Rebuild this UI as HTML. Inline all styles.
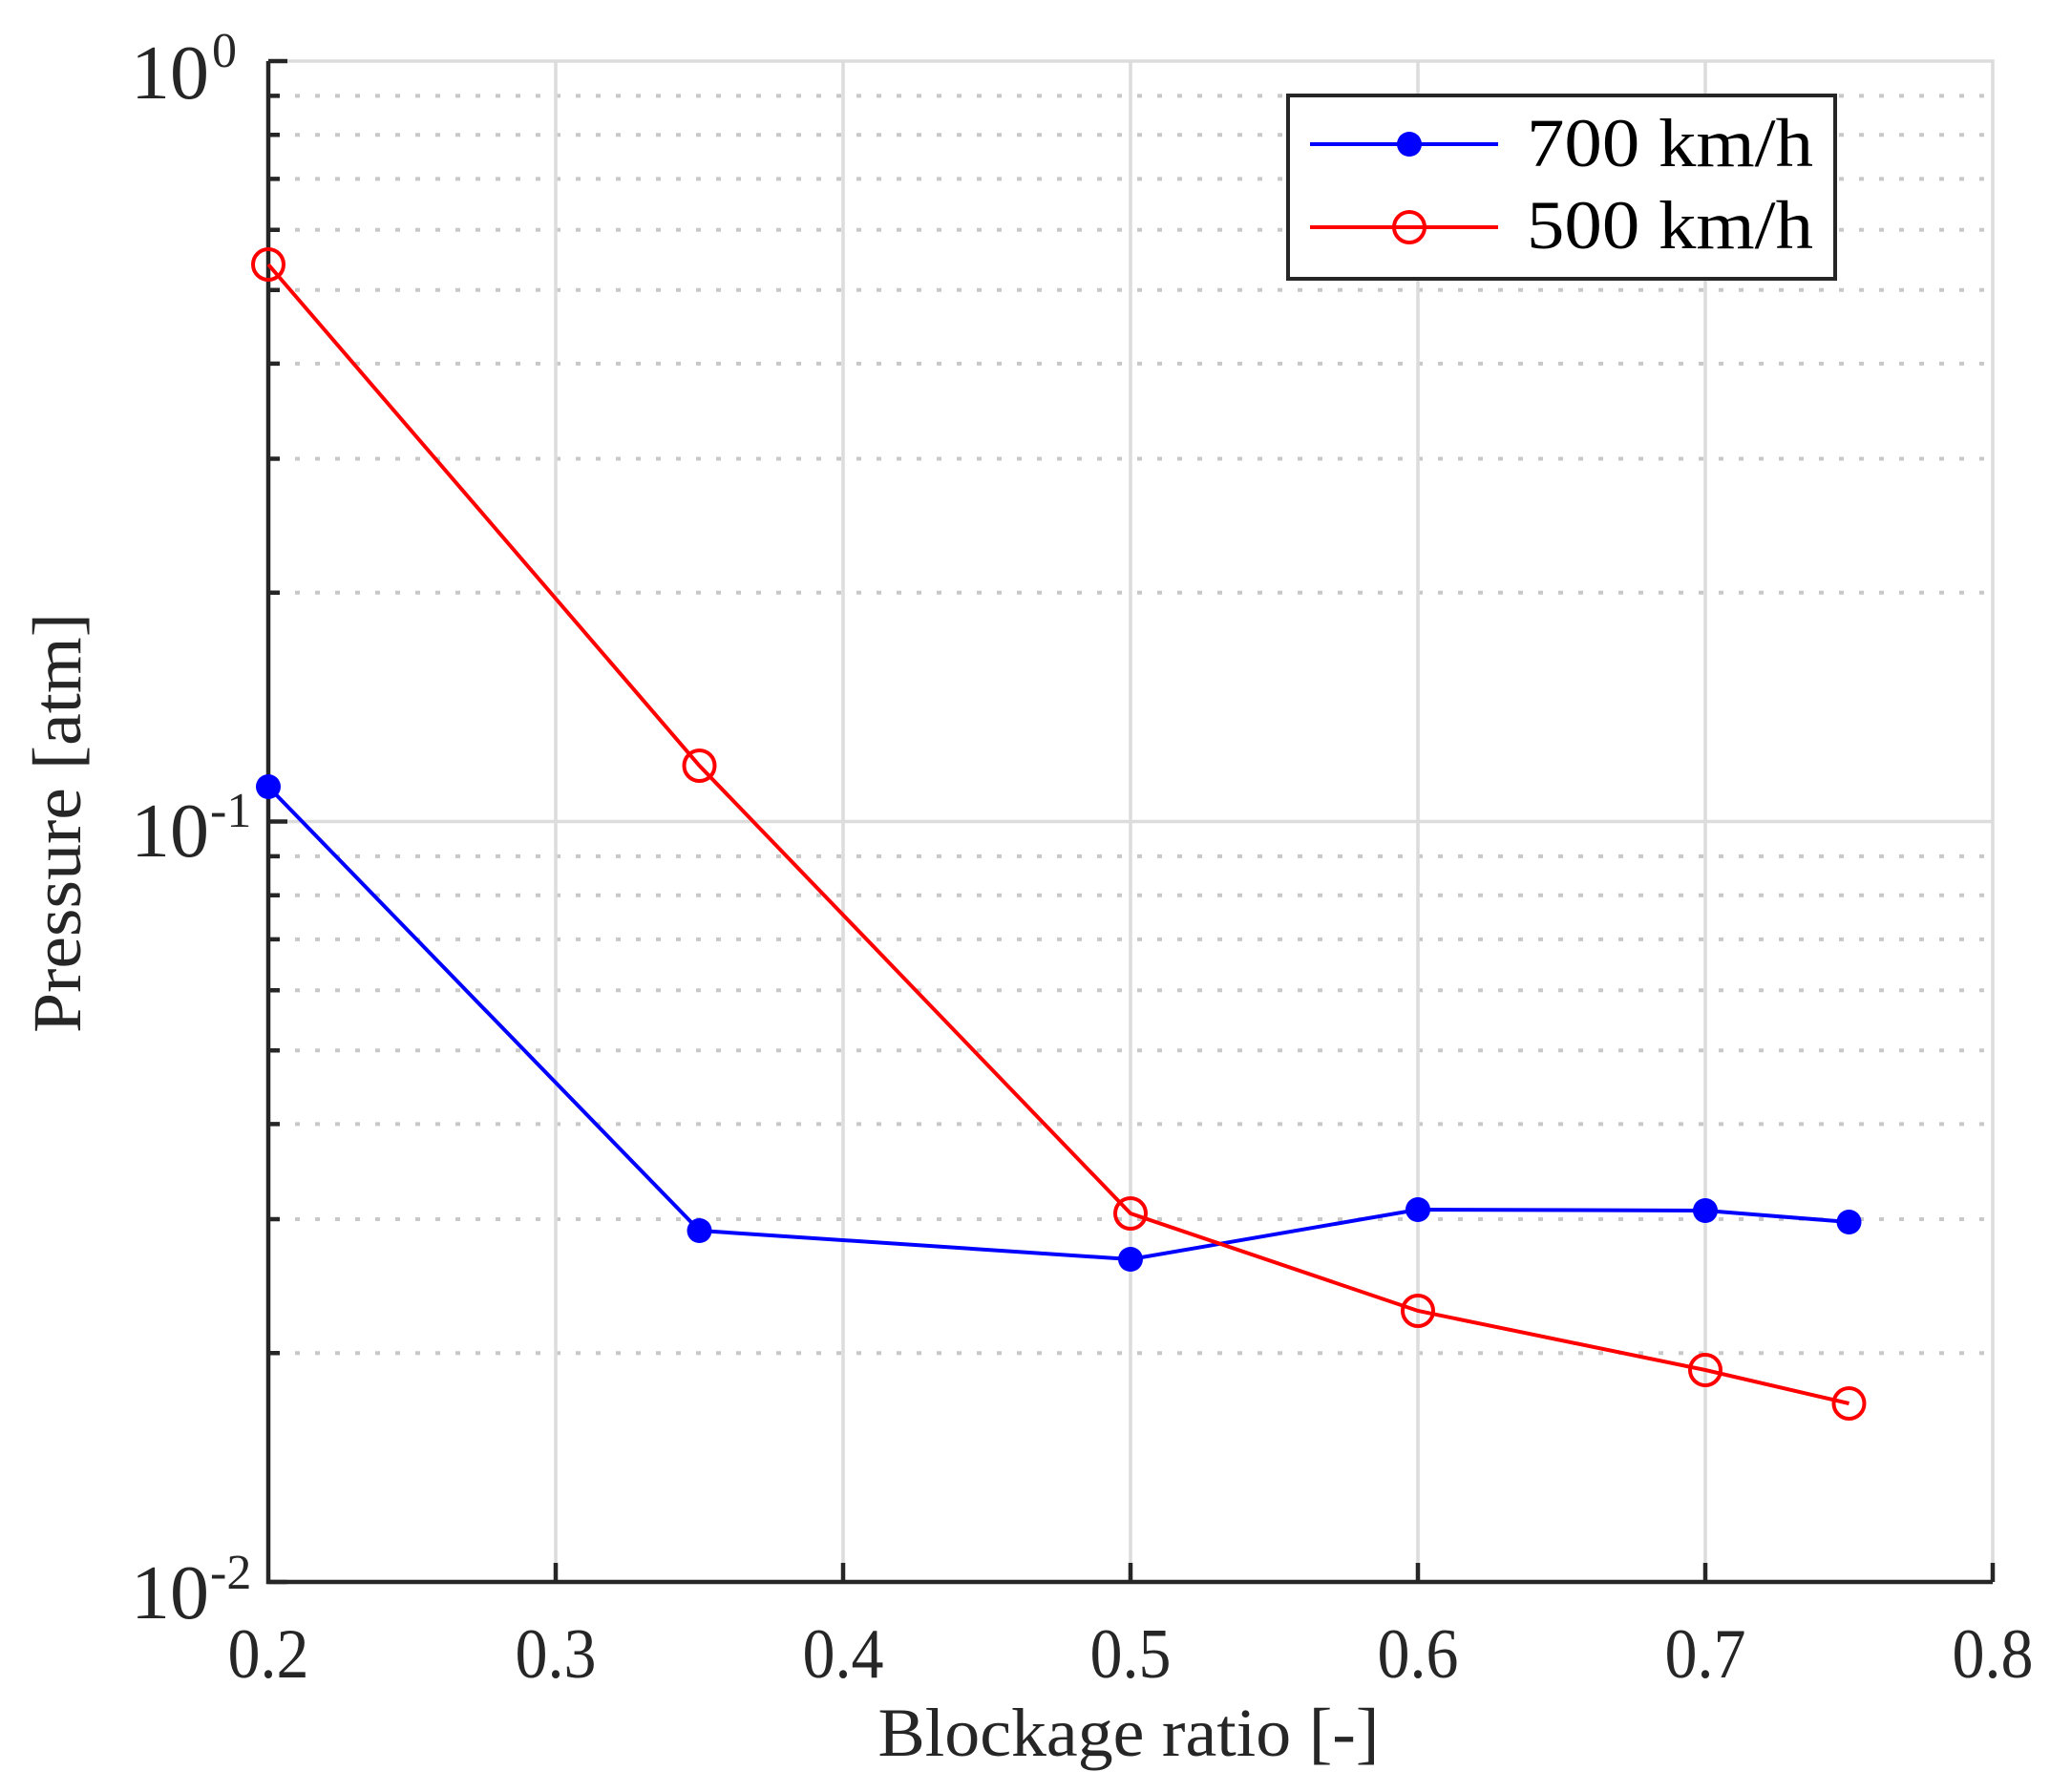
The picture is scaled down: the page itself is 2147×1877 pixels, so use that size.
<!DOCTYPE html>
<html><head><meta charset="utf-8"><style>html,body{margin:0;padding:0;background:#fff}svg{display:block}</style></head>
<body>
<svg width="2147" height="1877" viewBox="0 0 2147 1877" xmlns="http://www.w3.org/2000/svg" font-family="Liberation Serif, serif" fill="#262626">
<g stroke="#c8c8c8" stroke-width="4" stroke-dasharray="5 16">
<path d="M288 100.4H2087M288 141.2H2087M288 187.4H2087M288 240.7H2087M288 303.7H2087M288 380.9H2087M288 480.5H2087M288 620.7H2087M288 896.9H2087M288 937.7H2087M288 983.9H2087M288 1037.2H2087M288 1100.2H2087M288 1177.4H2087M288 1277H2087M288 1417.2H2087"/>
</g>
<g stroke="#dcdcdc" stroke-width="3.5" fill="none">
<path d="M281 64H2087V1657M582 64V1657M883 64V1657M1184 64V1657M1485 64V1657M1786 64V1657M281 860.5H2087"/>
</g>
<g stroke="#262626" stroke-width="4.5" fill="none">
<path d="M281 64V1657H2087"/>
<path d="M281 64H301M281 860.5H301M281 1657H301"/>
<path d="M281 100.4H293M281 141.2H293M281 187.4H293M281 240.7H293M281 303.7H293M281 380.9H293M281 480.5H293M281 620.7H293M281 896.9H293M281 937.7H293M281 983.9H293M281 1037.2H293M281 1100.2H293M281 1177.4H293M281 1277H293M281 1417.2H293"/>
<path d="M582 1657V1637M883 1657V1637M1184 1657V1637M1485 1657V1637M1786 1657V1637M2087 1657V1637"/>
</g>
<polyline points="281,824 732.5,1289 1184,1319 1485,1267 1786,1268 1936.5,1280" fill="none" stroke="#0000ff" stroke-width="4"/>
<g fill="#0000ff"><circle cx="281" cy="824" r="13"/><circle cx="732.5" cy="1289" r="13"/><circle cx="1184" cy="1319" r="13"/><circle cx="1485" cy="1267" r="13"/><circle cx="1786" cy="1268" r="13"/><circle cx="1936.5" cy="1280" r="13"/></g>
<polyline points="281,277 732.5,802 1184,1271 1485,1373 1786,1435 1936.5,1470" fill="none" stroke="#ff0000" stroke-width="4"/>
<g fill="none" stroke="#ff0000" stroke-width="4"><circle cx="281" cy="277" r="16"/><circle cx="732.5" cy="802" r="16"/><circle cx="1184" cy="1271" r="16"/><circle cx="1485" cy="1373" r="16"/><circle cx="1786" cy="1435" r="16"/><circle cx="1936.5" cy="1470" r="16"/></g>
<g font-size="74" text-anchor="middle">
<text x="281" y="1757" textLength="85" lengthAdjust="spacingAndGlyphs">0.2</text><text x="582" y="1757" textLength="85" lengthAdjust="spacingAndGlyphs">0.3</text><text x="883" y="1757" textLength="85" lengthAdjust="spacingAndGlyphs">0.4</text><text x="1184" y="1757" textLength="85" lengthAdjust="spacingAndGlyphs">0.5</text><text x="1485" y="1757" textLength="85" lengthAdjust="spacingAndGlyphs">0.6</text><text x="1786" y="1757" textLength="85" lengthAdjust="spacingAndGlyphs">0.7</text><text x="2087" y="1757" textLength="85" lengthAdjust="spacingAndGlyphs">0.8</text>
</g>
<g font-size="80">
<text x="137" y="103" textLength="82" lengthAdjust="spacingAndGlyphs">10</text><text x="137" y="897" textLength="82" lengthAdjust="spacingAndGlyphs">10</text><text x="137" y="1695" textLength="82" lengthAdjust="spacingAndGlyphs">10</text>
</g>
<g font-size="52">
<text x="222" y="70">0</text><text x="220" y="866">-1</text><text x="220" y="1664">-2</text>
</g>
<text x="1182" y="1839" font-size="72" text-anchor="middle" textLength="525" lengthAdjust="spacingAndGlyphs">Blockage ratio [-]</text>
<text transform="translate(84,862) rotate(-90)" font-size="72" text-anchor="middle" textLength="440" lengthAdjust="spacingAndGlyphs">Pressure [atm]</text>
<rect x="1349" y="100" width="573" height="192" fill="#fff" stroke="#262626" stroke-width="4"/>
<line x1="1372" y1="151" x2="1569" y2="151" stroke="#0000ff" stroke-width="4"/>
<circle cx="1476" cy="151" r="13" fill="#0000ff"/>
<line x1="1372" y1="238" x2="1569" y2="238" stroke="#ff0000" stroke-width="4"/>
<circle cx="1476" cy="238" r="16" fill="none" stroke="#ff0000" stroke-width="4"/>
<g font-size="72" fill="#000">
<text x="1599" y="174" textLength="300" lengthAdjust="spacingAndGlyphs">700 km/h</text>
<text x="1599" y="260" textLength="300" lengthAdjust="spacingAndGlyphs">500 km/h</text>
</g>
</svg>
</body></html>
